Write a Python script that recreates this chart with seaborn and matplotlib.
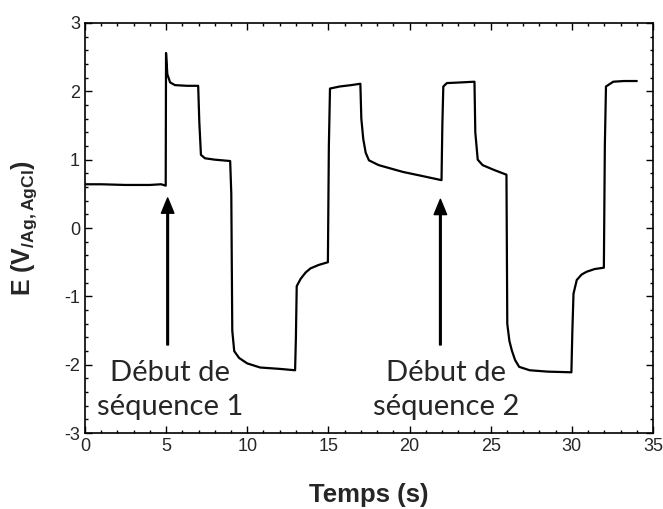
import numpy as np
import pandas as pd
import matplotlib
matplotlib.use('Agg')
import matplotlib.pyplot as plt
import seaborn as sns
from matplotlib.ticker import MultipleLocator

# valeurs
temps = [0.0, 1.0, 2.5, 4.0, 4.7, 4.98,
         5.0, 5.08, 5.25, 5.55, 6.3, 6.98,
         7.05, 7.15, 7.4, 8.0, 8.95,
         9.02, 9.08, 9.2, 9.5, 10.0, 10.8, 12.0, 12.95,
         13.0, 13.05, 13.3, 13.6, 13.9, 14.4, 14.97,
         15.03, 15.1, 15.7, 16.4, 16.97,
         17.03, 17.15, 17.3, 17.5, 18.1, 19.0, 19.6, 20.8, 21.97,
         22.02, 22.08, 22.3, 23.2, 24.0,
         24.05, 24.2, 24.5, 25.2, 25.97,
         26.02, 26.15, 26.3, 26.5, 26.75, 27.4, 28.5, 29.97,
         30.03, 30.1, 30.3, 30.6, 30.9, 31.4, 31.97,
         32.03, 32.1, 32.55, 33.2, 34.0]
potentiel = [0.64, 0.64, 0.63, 0.63, 0.64, 0.62,
             2.56, 2.25, 2.13, 2.09, 2.08, 2.08,
             1.55, 1.07, 1.02, 1.0, 0.98,
             0.5, -1.5, -1.8, -1.9, -1.98, -2.04, -2.06, -2.08,
             -1.6, -0.85, -0.74, -0.65, -0.59, -0.54, -0.5,
             1.2, 2.04, 2.07, 2.09, 2.11,
             1.6, 1.3, 1.1, 0.99, 0.92, 0.86, 0.82, 0.76, 0.7,
             1.5, 2.07, 2.12, 2.13, 2.14,
             1.4, 1.0, 0.92, 0.85, 0.78,
             -1.4, -1.65, -1.79, -1.93, -2.03, -2.08, -2.1, -2.11,
             -1.5, -0.96, -0.76, -0.68, -0.64, -0.6, -0.58,
             1.2, 2.07, 2.14, 2.15, 2.15]

fleches_t = [5.1, 21.9]
fleches_tete = [0.44, 0.42]
fleches_queue = [-1.71, -1.71]
textes = ['Début de\nséquence 1', 'Début de\nséquence 2']
textes_t = [5.25, 22.25]
textes_y = [-2.37, -2.37]

df = pd.DataFrame({'Temps': temps, 'E': potentiel})

sns.set_style('ticks')
plt.rcParams['font.family'] = ['Liberation Sans', 'DejaVu Sans']
plt.rcParams['axes.unicode_minus'] = False

fig = plt.figure(figsize=(6.63, 5.09), dpi=100)
ax = fig.add_axes([0.128, 0.149, 0.857, 0.806])

sns.lineplot(data=df, x='Temps', y='E', estimator=None, sort=False,
             color='black', linewidth=1.6, ax=ax)

for t, y1, y0 in zip(fleches_t, fleches_tete, fleches_queue):
    ax.annotate('', xy=(t, y1), xytext=(t, y0),
                arrowprops=dict(facecolor='black', edgecolor='black',
                                width=1.2, headwidth=9, headlength=11))
for t, y, s in zip(textes_t, textes_y, textes):
    ax.text(t, y, s, ha='center', va='center', fontsize=21,
            family=['Lato', 'DejaVu Sans'], linespacing=1.35)

ax.set_xlim(0, 35)
ax.set_ylim(-3, 3)
ax.xaxis.set_major_locator(MultipleLocator(5))
ax.xaxis.set_minor_locator(MultipleLocator(1))
ax.yaxis.set_major_locator(MultipleLocator(1))
ax.yaxis.set_minor_locator(MultipleLocator(0.2))
ax.tick_params(which='both', direction='in', top=True, right=True,
               labelsize=13, color='black')
ax.tick_params(which='major', length=5, width=1)
ax.tick_params(which='minor', length=2.5, width=1)
for sp in ax.spines.values():
    sp.set_linewidth(1.2)
    sp.set_color('black')

ax.set_xlabel('Temps (s)', fontsize=18.5, fontweight='bold', labelpad=20)
ax.set_ylabel(r'E (V$_{\mathregular{/Ag,AgCl}}$)', fontsize=18,
              fontweight='bold', labelpad=18)

fig.savefig('out.png', dpi=100)
